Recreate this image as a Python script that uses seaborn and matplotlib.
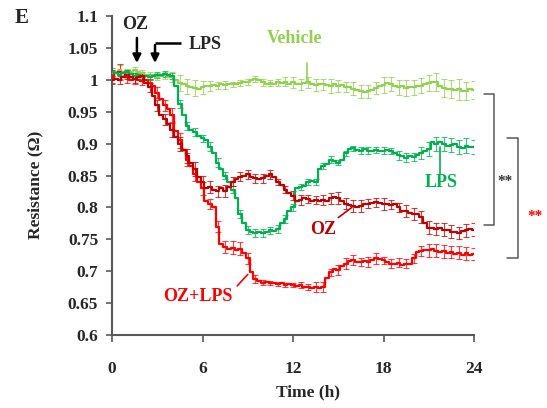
import numpy as np
import pandas as pd
import matplotlib
matplotlib.use("Agg")
import matplotlib.pyplot as plt
import seaborn as sns

# sampling grid: one reading every 15 min over 24 h
hours = np.arange(97) * 0.25

vehicle = [1.010, 1.012, 1.015, 1.012, 1.010, 1.013, 1.015, 1.012, 1.010,
           1.008, 1.006, 1.008, 1.005, 1.006, 1.007, 1.005, 1.004,
           1.000, 0.995, 0.993, 0.990, 0.988, 0.987, 0.985, 0.988,
           0.990, 0.990, 0.992, 0.991, 0.993, 0.992, 0.994, 0.993,
           0.993, 0.995, 0.996, 0.997, 0.999, 1.001, 0.999, 0.996,
           0.994, 0.995, 0.993, 0.996, 0.995, 0.997, 0.994, 0.996,
           0.994, 0.993, 0.995, 0.996, 0.994, 0.992, 0.994, 0.993,
           0.992, 0.991, 0.993, 0.990, 0.992, 0.989, 0.988, 0.986,
           0.984, 0.982, 0.981, 0.982, 0.984, 0.987, 0.990, 0.992,
           0.995, 0.993, 0.990, 0.988, 0.990, 0.987, 0.989, 0.988,
           0.990, 0.991, 0.993, 0.995, 0.997, 0.996, 0.990, 0.987,
           0.986, 0.985, 0.984, 0.985, 0.983, 0.982, 0.985, 0.984]
vehicle_err = [0.006, 0.007, 0.008, 0.006, 0.007, 0.006, 0.005, 0.006, 0.005,
               0.005, 0.006, 0.005, 0.006, 0.005, 0.006, 0.007, 0.008,
               0.010, 0.012, 0.011, 0.012, 0.010, 0.012, 0.011, 0.010,
               0.009, 0.008, 0.007, 0.006, 0.005, 0.006, 0.005, 0.004,
               0.004, 0.005, 0.004, 0.005, 0.004, 0.005, 0.004, 0.005,
               0.004, 0.005, 0.006, 0.005, 0.006, 0.007, 0.008, 0.009,
               0.008, 0.009, 0.010, 0.009, 0.008, 0.009, 0.010, 0.009,
               0.010, 0.011, 0.010, 0.009, 0.010, 0.008, 0.009, 0.010,
               0.011, 0.010, 0.009, 0.010, 0.009, 0.010, 0.011, 0.012,
               0.012, 0.011, 0.010, 0.012, 0.011, 0.012, 0.013, 0.012,
               0.013, 0.012, 0.014, 0.013, 0.015, 0.014, 0.013, 0.014,
               0.015, 0.014, 0.015, 0.016, 0.015, 0.014, 0.015, 0.014]

lps = [1.012, 1.010, 1.008, 1.010, 1.012, 1.009, 1.006, 1.008, 1.005,
       1.006, 1.004, 1.006, 1.008, 1.007, 1.009, 1.008, 1.006,
       0.990, 0.962, 0.945, 0.928, 0.922, 0.918, 0.912, 0.908,
       0.905, 0.895, 0.885, 0.870, 0.860, 0.850, 0.840, 0.828,
       0.815, 0.790, 0.775, 0.765, 0.762, 0.760, 0.762, 0.760,
       0.762, 0.764, 0.763, 0.766, 0.775, 0.782, 0.795, 0.800,
       0.830, 0.832, 0.834, 0.840, 0.842, 0.840, 0.860, 0.865,
       0.868, 0.875, 0.872, 0.870, 0.874, 0.885, 0.892, 0.893,
       0.890, 0.889, 0.891, 0.889, 0.888, 0.890, 0.888, 0.889,
       0.890, 0.888, 0.885, 0.882, 0.880, 0.878, 0.880, 0.879,
       0.882, 0.885, 0.888, 0.892, 0.903, 0.900, 0.902, 0.899,
       0.896, 0.898, 0.900, 0.895, 0.893, 0.897, 0.894, 0.895]
lps_err = [0.006, 0.005, 0.006, 0.005, 0.004, 0.005, 0.004, 0.005, 0.004,
           0.004, 0.005, 0.004, 0.005, 0.004, 0.005, 0.004, 0.005,
           0.005, 0.006, 0.005, 0.006, 0.007, 0.006, 0.007, 0.006,
           0.006, 0.007, 0.006, 0.007, 0.006, 0.005, 0.006, 0.005,
           0.005, 0.006, 0.005, 0.006, 0.005, 0.006, 0.005, 0.006,
           0.005, 0.006, 0.005, 0.006, 0.007, 0.006, 0.007, 0.006,
           0.006, 0.005, 0.006, 0.005, 0.006, 0.005, 0.006, 0.005,
           0.005, 0.006, 0.005, 0.004, 0.005, 0.004, 0.005, 0.004,
           0.004, 0.005, 0.004, 0.005, 0.004, 0.005, 0.004, 0.005,
           0.004, 0.005, 0.006, 0.007, 0.008, 0.007, 0.008, 0.007,
           0.008, 0.009, 0.010, 0.011, 0.012, 0.011, 0.012, 0.011,
           0.012, 0.011, 0.012, 0.011, 0.012, 0.011, 0.012, 0.011]

oz = [1.000, 1.002, 1.000, 1.005, 1.008, 1.004, 1.001, 1.004, 1.006,
      0.995, 0.988, 0.975, 0.960, 0.945, 0.938, 0.930, 0.922,
      0.910, 0.900, 0.890, 0.880, 0.870, 0.860, 0.848, 0.840,
      0.830, 0.832, 0.828, 0.825, 0.830, 0.826, 0.832, 0.840,
      0.845, 0.848, 0.850, 0.852, 0.848, 0.846, 0.844, 0.846,
      0.850, 0.852, 0.848, 0.840, 0.835, 0.828, 0.823, 0.818,
      0.810, 0.812, 0.815, 0.813, 0.810, 0.812, 0.810, 0.812,
      0.810, 0.814, 0.817, 0.815, 0.810, 0.806, 0.804, 0.802,
      0.800, 0.802, 0.805, 0.806, 0.807, 0.808, 0.807, 0.805,
      0.806, 0.804, 0.805, 0.800, 0.795, 0.794, 0.792, 0.790,
      0.790, 0.785, 0.775, 0.768, 0.768, 0.766, 0.767, 0.765,
      0.764, 0.762, 0.761, 0.760, 0.763, 0.764, 0.766, 0.765]
oz_err = [0.006, 0.007, 0.006, 0.007, 0.006, 0.007, 0.006, 0.007, 0.006,
          0.006, 0.007, 0.008, 0.009, 0.010, 0.009, 0.010, 0.011,
          0.010, 0.011, 0.010, 0.011, 0.010, 0.011, 0.010, 0.009,
          0.010, 0.009, 0.010, 0.009, 0.010, 0.009, 0.008, 0.007,
          0.008, 0.007, 0.008, 0.007, 0.006, 0.007, 0.006, 0.007,
          0.006, 0.007, 0.006, 0.005, 0.006, 0.005, 0.006, 0.007,
          0.007, 0.008, 0.007, 0.006, 0.007, 0.006, 0.007, 0.008,
          0.008, 0.009, 0.008, 0.009, 0.010, 0.009, 0.008, 0.009,
          0.008, 0.009, 0.008, 0.007, 0.008, 0.007, 0.008, 0.009,
          0.008, 0.007, 0.008, 0.007, 0.008, 0.009, 0.008, 0.009,
          0.009, 0.010, 0.009, 0.010, 0.011, 0.010, 0.011, 0.010,
          0.011, 0.010, 0.011, 0.010, 0.011, 0.010, 0.011, 0.010]

oz_lps = [1.005, 1.010, 1.012, 1.010, 1.005, 1.000, 1.002, 1.000, 0.998,
          1.000, 0.995, 0.990, 0.980, 0.970, 0.960, 0.955, 0.945,
          0.920, 0.905, 0.890, 0.875, 0.865, 0.852, 0.840, 0.830,
          0.810, 0.805, 0.800, 0.770, 0.742, 0.738, 0.735, 0.737,
          0.733, 0.735, 0.728, 0.720, 0.698, 0.688, 0.684, 0.682,
          0.683, 0.681, 0.682, 0.680, 0.681, 0.679, 0.680, 0.678,
          0.677, 0.678, 0.676, 0.675, 0.674, 0.675, 0.673, 0.675,
          0.690, 0.698, 0.703, 0.702, 0.708, 0.712, 0.716, 0.718,
          0.715, 0.714, 0.716, 0.715, 0.718, 0.720, 0.719, 0.717,
          0.714, 0.712, 0.711, 0.713, 0.710, 0.712, 0.711, 0.720,
          0.730, 0.732, 0.734, 0.733, 0.735, 0.732, 0.730, 0.731,
          0.728, 0.730, 0.727, 0.729, 0.726, 0.728, 0.725, 0.727]
oz_lps_err = [0.010, 0.011, 0.012, 0.011, 0.010, 0.009, 0.008, 0.007, 0.006,
              0.006, 0.007, 0.008, 0.009, 0.010, 0.009, 0.010, 0.011,
              0.011, 0.012, 0.011, 0.010, 0.011, 0.010, 0.009, 0.010,
              0.009, 0.008, 0.007, 0.008, 0.009, 0.010, 0.011, 0.010,
              0.011, 0.010, 0.009, 0.008, 0.007, 0.006, 0.005, 0.004,
              0.004, 0.003, 0.004, 0.003, 0.004, 0.003, 0.004, 0.003,
              0.004, 0.005, 0.004, 0.005, 0.006, 0.008, 0.009, 0.008,
              0.007, 0.006, 0.007, 0.008, 0.009, 0.008, 0.007, 0.008,
              0.007, 0.006, 0.007, 0.008, 0.009, 0.008, 0.007, 0.006,
              0.006, 0.007, 0.006, 0.007, 0.006, 0.007, 0.006, 0.007,
              0.007, 0.008, 0.009, 0.010, 0.009, 0.010, 0.009, 0.010,
              0.009, 0.010, 0.009, 0.010, 0.011, 0.010, 0.009, 0.010]

groups = ['Vehicle', 'OZ+LPS', 'LPS', 'OZ']
colors = {'Vehicle': '#92D050', 'LPS': '#00B050', 'OZ': '#C00000', 'OZ+LPS': '#FF0000'}
values = {'Vehicle': vehicle, 'LPS': lps, 'OZ': oz, 'OZ+LPS': oz_lps}
errors = {'Vehicle': vehicle_err, 'LPS': lps_err, 'OZ': oz_err, 'OZ+LPS': oz_lps_err}

df = pd.concat([pd.DataFrame({'Time': hours, 'Resistance': values[g], 'err': errors[g], 'Group': g})
                for g in groups], ignore_index=True)

sns.set_style("ticks")
plt.rcParams['font.family'] = ['Liberation Serif', 'DejaVu Serif']
plt.rcParams['font.weight'] = 'bold'

fig = plt.figure(figsize=(5.47, 4.08), dpi=100)
ax = fig.add_axes([0.2048, 0.1789, 0.6618, 0.7819])

for g in groups:
    sub = df[df['Group'] == g]
    ax.errorbar(sub['Time'], sub['Resistance'], yerr=sub['err'], fmt='none',
                ecolor=colors[g], elinewidth=0.8, capsize=2.5, capthick=0.8,
                errorevery=2, alpha=0.75, zorder=2)
    sns.lineplot(data=sub, x='Time', y='Resistance', color=colors[g], ax=ax,
                 estimator=None, drawstyle='steps-mid', linewidth=1.6, zorder=3)

ax.set_xlim(0, 24)
ax.set_ylim(0.6, 1.1)
ax.set_xticks([0, 6, 12, 18, 24])
yt = [0.6, 0.65, 0.7, 0.75, 0.8, 0.85, 0.9, 0.95, 1.0, 1.05, 1.1]
ax.set_yticks(yt)
ax.set_yticklabels([f'{v:g}' for v in yt])
ax.tick_params(axis='y', length=4, width=1.2, pad=6, labelsize=12.5, color='#595959')
ax.tick_params(axis='x', length=5, width=1.2, pad=14, labelsize=12.5, color='#595959')
for lab in ax.get_xticklabels() + ax.get_yticklabels():
    lab.set_fontweight('bold')
sns.despine(ax=ax)
for s in ['left', 'bottom']:
    ax.spines[s].set_color('#595959')
    ax.spines[s].set_linewidth(1.5)

ax.set_xlabel('Time (h)', fontsize=12.5, fontweight='bold')
ax.set_ylabel('Resistance (Ω)', fontsize=12.5, fontweight='bold')
ax.xaxis.set_label_coords(0.54, -0.155)
ax.yaxis.set_label_coords(-0.19, 0.47)

# series labels with leader lines
lab_kw = dict(fontsize=13, fontweight='bold', ha='center', va='center')
ax.text(12.1, 1.064, 'Vehicle', color=colors['Vehicle'], **lab_kw)
ax.plot([12.9, 12.9], [1.027, 0.995], color=colors['Vehicle'], lw=1.2)
ax.text(21.8, 0.839, 'LPS', color=colors['LPS'], **lab_kw)
ax.plot([21.75, 21.75], [0.895, 0.852], color=colors['LPS'], lw=1.2)
ax.text(14.0, 0.766, 'OZ', color=colors['OZ'], **lab_kw)
ax.plot([15.0, 15.9], [0.784, 0.800], color=colors['OZ'], lw=1.2)
ax.text(5.7, 0.66, 'OZ+LPS', color=colors['OZ+LPS'], **lab_kw)
ax.plot([8.3, 9.0], [0.677, 0.695], color=colors['OZ+LPS'], lw=1.2)

# treatment arrows
ax.text(1.5, 1.086, 'OZ', fontsize=13, fontweight='bold', ha='center', va='center')
ax.annotate('', xy=(1.65, 1.022), xytext=(1.65, 1.07),
            arrowprops=dict(arrowstyle='-|>', color='black', lw=1.8, mutation_scale=12))
ax.text(6.2, 1.055, 'LPS', fontsize=13, fontweight='bold', ha='center', va='center')
ax.plot([4.6, 2.85], [1.058, 1.058], color='black', lw=1.8, solid_capstyle='butt')
ax.annotate('', xy=(2.85, 1.022), xytext=(2.85, 1.059),
            arrowprops=dict(arrowstyle='-|>', color='black', lw=1.8, mutation_scale=12))

# significance brackets
ax.plot([24.67, 25.33, 25.33, 24.67], [0.977, 0.977, 0.772, 0.772],
        color='#595959', lw=1.1, clip_on=False)
ax.text(26.06, 0.84, '**', fontsize=11, color='#333333', ha='center', va='center', clip_on=False)
ax.plot([26.19, 26.92, 26.92, 26.19], [0.908, 0.908, 0.72, 0.72],
        color='#595959', lw=1.1, clip_on=False)
ax.text(28.05, 0.785, '**', fontsize=11, color='#FF0000', ha='center', va='center', clip_on=False)

fig.text(22 / 547, 1 - 18 / 408, 'E', fontsize=15, fontweight='bold', ha='center', va='center')

fig.savefig('out.png', dpi=100)
